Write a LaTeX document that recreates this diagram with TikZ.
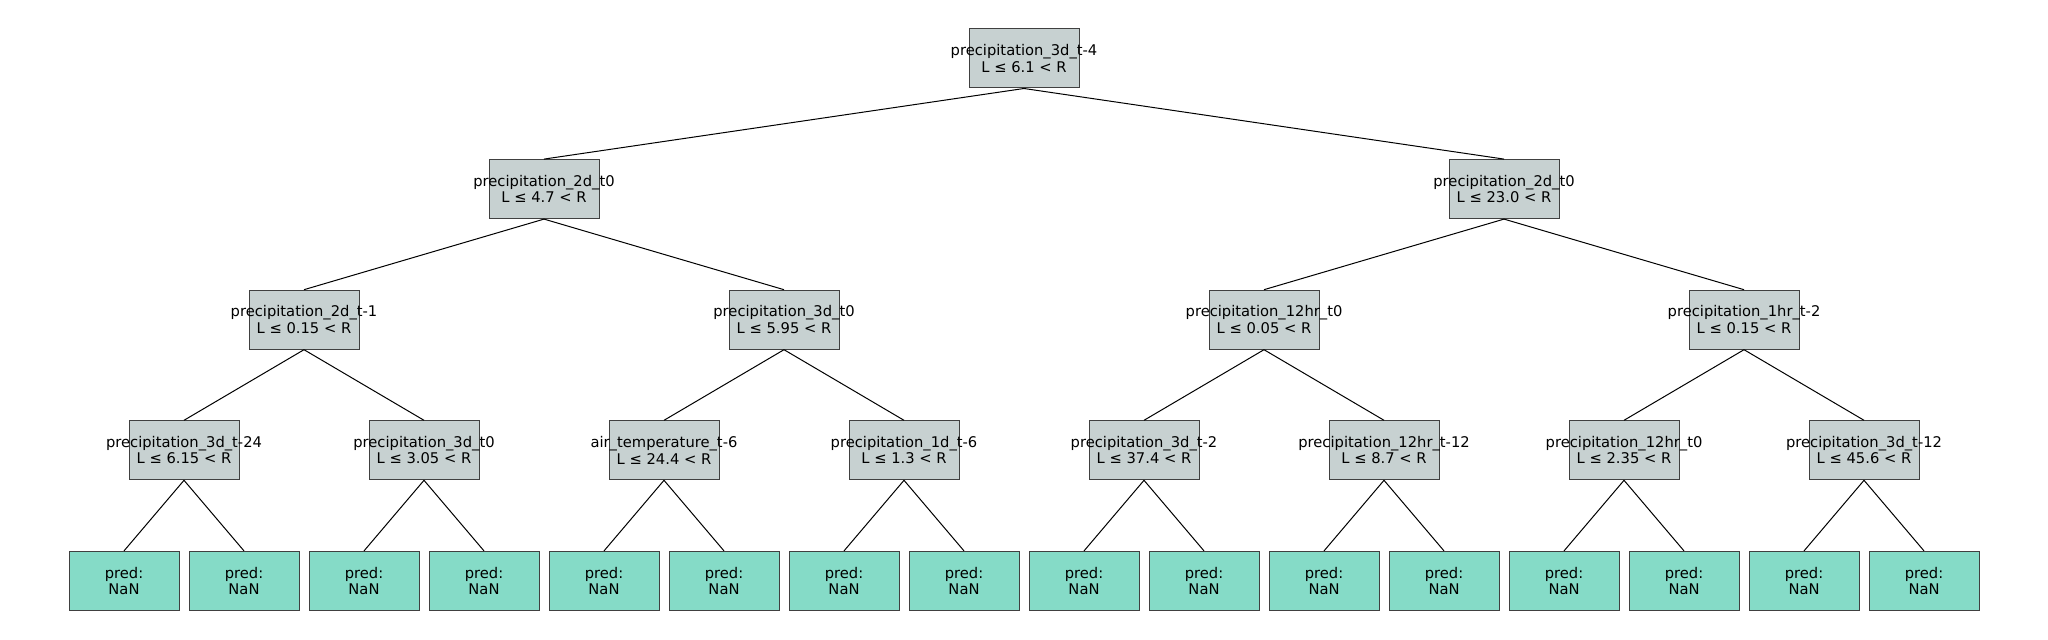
\documentclass[tikz,border=0pt]{standalone}
\usepackage{fontspec}
\setmainfont{DejaVu Sans}
\usepackage{tikz}
\definecolor{splitgray}{rgb}{0.78, 0.82, 0.82}
\definecolor{leafteal}{rgb}{0.52, 0.86, 0.78}
\definecolor{framegray}{rgb}{0.25, 0.25, 0.25}
\tikzset{
	boxtext/.style={align=center, inner sep=0pt, font=\fontsize{7.36}{8.2}\selectfont},
	splitbox/.style={draw=framegray, fill=splitgray, line width=0.5pt, minimum width=55pt, minimum height=29.5pt, inner sep=0pt},
	predbox/.style={draw=framegray, fill=leafteal, line width=0.5pt, minimum width=55pt, minimum height=29.5pt, inner sep=0pt},
	branch/.style={line width=0.5pt, black}
}

\begin{document}
\begin{tikzpicture}[x=0.5pt, y=-0.5pt]
						\def\rowA{58.5}
						\def\rowB{189.1}
						\def\rowC{319.7}
						\def\rowD{450.3}
						\def\rowE{580.9}

						\useasboundingbox (0,0) rectangle (2048,640);

						% split nodes
						\node[splitbox, label={[boxtext]center:precipitation\_3d\_t-4\\L ≤ 6.1 < R}] (s) at (1024,\rowA) {};

						\node[splitbox, label={[boxtext]center:precipitation\_2d\_t0\\L ≤ 4.7 < R}] (s0) at (544,\rowB) {};
						\node[splitbox, label={[boxtext]center:precipitation\_2d\_t0\\L ≤ 23.0 < R}] (s1) at (1504,\rowB) {};

						\node[splitbox, label={[boxtext]center:precipitation\_2d\_t-1\\L ≤ 0.15 < R}] (s00) at (304,\rowC) {};
						\node[splitbox, label={[boxtext]center:precipitation\_3d\_t0\\L ≤ 5.95 < R}] (s01) at (784,\rowC) {};
						\node[splitbox, label={[boxtext]center:precipitation\_12hr\_t0\\L ≤ 0.05 < R}] (s10) at (1264,\rowC) {};
						\node[splitbox, label={[boxtext]center:precipitation\_1hr\_t-2\\L ≤ 0.15 < R}] (s11) at (1744,\rowC) {};

						\node[splitbox, label={[boxtext]center:precipitation\_3d\_t-24\\L ≤ 6.15 < R}] (s000) at (184,\rowD) {};
						\node[splitbox, label={[boxtext]center:precipitation\_3d\_t0\\L ≤ 3.05 < R}] (s001) at (424,\rowD) {};
						\node[splitbox, label={[boxtext]center:air\_temperature\_t-6\\L ≤ 24.4 < R}] (s010) at (664,\rowD) {};
						\node[splitbox, label={[boxtext]center:precipitation\_1d\_t-6\\L ≤ 1.3 < R}] (s011) at (904,\rowD) {};
						\node[splitbox, label={[boxtext]center:precipitation\_3d\_t-2\\L ≤ 37.4 < R}] (s100) at (1144,\rowD) {};
						\node[splitbox, label={[boxtext]center:precipitation\_12hr\_t-12\\L ≤ 8.7 < R}] (s101) at (1384,\rowD) {};
						\node[splitbox, label={[boxtext]center:precipitation\_12hr\_t0\\L ≤ 2.35 < R}] (s110) at (1624,\rowD) {};
						\node[splitbox, label={[boxtext]center:precipitation\_3d\_t-12\\L ≤ 45.6 < R}] (s111) at (1864,\rowD) {};

						% leaves
						\node[predbox, label={[boxtext]center:pred:\\NaN}] (p0000) at (124,\rowE) {};
						\node[predbox, label={[boxtext]center:pred:\\NaN}] (p0001) at (244,\rowE) {};
						\node[predbox, label={[boxtext]center:pred:\\NaN}] (p0010) at (364,\rowE) {};
						\node[predbox, label={[boxtext]center:pred:\\NaN}] (p0011) at (484,\rowE) {};
						\node[predbox, label={[boxtext]center:pred:\\NaN}] (p0100) at (604,\rowE) {};
						\node[predbox, label={[boxtext]center:pred:\\NaN}] (p0101) at (724,\rowE) {};
						\node[predbox, label={[boxtext]center:pred:\\NaN}] (p0110) at (844,\rowE) {};
						\node[predbox, label={[boxtext]center:pred:\\NaN}] (p0111) at (964,\rowE) {};
						\node[predbox, label={[boxtext]center:pred:\\NaN}] (p1000) at (1084,\rowE) {};
						\node[predbox, label={[boxtext]center:pred:\\NaN}] (p1001) at (1204,\rowE) {};
						\node[predbox, label={[boxtext]center:pred:\\NaN}] (p1010) at (1324,\rowE) {};
						\node[predbox, label={[boxtext]center:pred:\\NaN}] (p1011) at (1444,\rowE) {};
						\node[predbox, label={[boxtext]center:pred:\\NaN}] (p1100) at (1564,\rowE) {};
						\node[predbox, label={[boxtext]center:pred:\\NaN}] (p1101) at (1684,\rowE) {};
						\node[predbox, label={[boxtext]center:pred:\\NaN}] (p1110) at (1804,\rowE) {};
						\node[predbox, label={[boxtext]center:pred:\\NaN}] (p1111) at (1924,\rowE) {};

						% branches
						\draw[branch] (s.south) -- (s0.north);
						\draw[branch] (s.south) -- (s1.north);

						\draw[branch] (s0.south) -- (s00.north);
						\draw[branch] (s0.south) -- (s01.north);
						\draw[branch] (s1.south) -- (s10.north);
						\draw[branch] (s1.south) -- (s11.north);

						\draw[branch] (s00.south) -- (s000.north);
						\draw[branch] (s00.south) -- (s001.north);
						\draw[branch] (s01.south) -- (s010.north);
						\draw[branch] (s01.south) -- (s011.north);
						\draw[branch] (s10.south) -- (s100.north);
						\draw[branch] (s10.south) -- (s101.north);
						\draw[branch] (s11.south) -- (s110.north);
						\draw[branch] (s11.south) -- (s111.north);

						\draw[branch] (s000.south) -- (p0000.north);
						\draw[branch] (s000.south) -- (p0001.north);
						\draw[branch] (s001.south) -- (p0010.north);
						\draw[branch] (s001.south) -- (p0011.north);
						\draw[branch] (s010.south) -- (p0100.north);
						\draw[branch] (s010.south) -- (p0101.north);
						\draw[branch] (s011.south) -- (p0110.north);
						\draw[branch] (s011.south) -- (p0111.north);
						\draw[branch] (s100.south) -- (p1000.north);
						\draw[branch] (s100.south) -- (p1001.north);
						\draw[branch] (s101.south) -- (p1010.north);
						\draw[branch] (s101.south) -- (p1011.north);
						\draw[branch] (s110.south) -- (p1100.north);
						\draw[branch] (s110.south) -- (p1101.north);
						\draw[branch] (s111.south) -- (p1110.north);
						\draw[branch] (s111.south) -- (p1111.north);
					\end{tikzpicture}
\end{document}
